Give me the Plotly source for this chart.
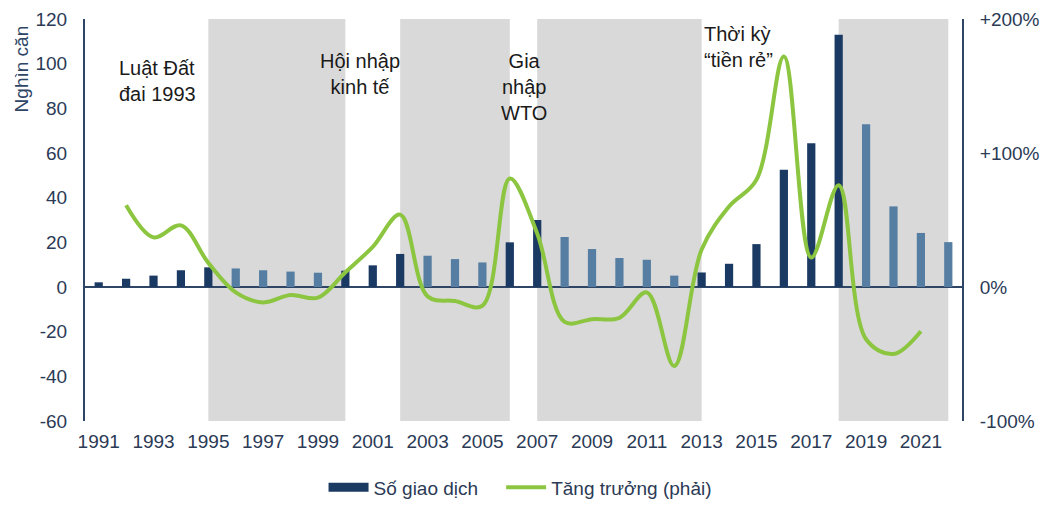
import plotly.graph_objects as go

years = list(range(1991, 2023))
transactions = [2.1, 3.7, 5.1, 7.5, 8.8, 8.3, 7.5, 6.9, 6.4, 7.3, 9.7, 14.8, 14.0, 12.5, 11.0, 20.0,
                30.0, 22.4, 17.0, 13.0, 12.2, 5.1, 6.5, 10.4, 19.2, 52.5, 64.4, 112.9, 72.9, 36.1, 24.2, 20.1]
light_years = [1996, 1997, 1998, 1999, 2003, 2004, 2005, 2008, 2009, 2010, 2011, 2012, 2019, 2020, 2021, 2022]

growth_years = list(range(1992, 2022))
growth = [61, 37, 46, 18, -4, -11.5, -6, -8, 11, 30, 54, -7, -10.5, -14, 81, 40,
          -26, -24, -23, -4, -59, 28, 60, 80, 172, 22, 76, -39, -50, -33]

bands = [(1995, 2000), (2002, 2006), (2007, 2013), (2018, 2022)]

tick_years = list(range(1991, 2022, 2))
left_ticks = [-60, -40, -20, 0, 20, 40, 60, 80, 100, 120]
left_labels = ["-60", "-40", "-20", "0", "20", "40", "60", "80", "100", "120"]
right_ticks = [-100, 0, 100, 200]
right_labels = ["-100%", "0%", "+100%", "+200%"]

DARK = "#1b3a63"
LIGHT = "#557ea2"
GREEN = "#8cc641"
AXIS = "#2e4565"
TXT = "#2b3a55"
FONT = "Liberation Sans, Arial, sans-serif"

bar_colors = [LIGHT if y in light_years else DARK for y in years]

fig = go.Figure()
fig.add_trace(go.Bar(x=years, y=transactions, marker=dict(color=bar_colors, line=dict(width=0)),
                     width=0.3, showlegend=False, name="Số giao dịch"))
# legend proxy for the bars (wide swatch)
fig.add_trace(go.Scatter(x=[None], y=[None], mode="lines", line=dict(color=DARK, width=9),
                         name="Số giao dịch", legend="legend"))
fig.add_trace(go.Scatter(x=growth_years, y=growth, yaxis="y2", mode="lines",
                         line=dict(color=GREEN, width=4, shape="spline", smoothing=1.0),
                         name="Tăng trưởng (phải)", legend="legend2"))

for b0, b1 in bands:
    fig.add_shape(type="rect", xref="x", yref="y", x0=b0, x1=b1, y0=-60, y1=120,
                  fillcolor="#d9d9d9", line=dict(width=0), layer="below")

ann_font = dict(family=FONT, size=20, color="#1a1a1a")
fig.add_annotation(x=1991.68, y=104, xref="x", yref="y", text="Luật Đất<br>đai 1993",
                   showarrow=False, xanchor="left", yanchor="top", align="left", font=ann_font)
fig.add_annotation(x=2000.55, y=106.8, xref="x", yref="y", text="Hội nhập<br>kinh tế",
                   showarrow=False, xanchor="center", yanchor="top", align="center", font=ann_font)
fig.add_annotation(x=2006.5, y=106.8, xref="x", yref="y", text="Gia<br>nhập<br>WTO",
                   showarrow=False, xanchor="center", yanchor="top", align="center", font=ann_font)
fig.add_annotation(x=2013.0, y=119, xref="x", yref="y", text="Thời kỳ<br>“tiền rẻ”",
                   showarrow=False, xanchor="left", yanchor="top", align="left", font=ann_font)
fig.add_annotation(x=-0.072, y=0.99, xref="paper", yref="paper", text="Nghìn căn",
                   textangle=-90, showarrow=False, xanchor="center", yanchor="top",
                   font=dict(family=FONT, size=19, color=AXIS))

legend_common = dict(orientation="h", xanchor="left", y=-0.165, yanchor="middle",
                     font=dict(size=19, color=TXT), itemwidth=40, bgcolor="rgba(0,0,0,0)")

fig.update_layout(
    width=1053, height=511,
    margin=dict(l=85, r=91, t=19, b=90, autoexpand=False),
    paper_bgcolor="white", plot_bgcolor="white",
    font=dict(family=FONT, size=19, color=TXT),
    xaxis=dict(range=[1990.5, 2022.5], tickmode="array", tickvals=tick_years,
               ticktext=[str(y) for y in tick_years], showgrid=False, zeroline=False,
               showline=False, ticks="outside", ticklen=3, tickcolor="rgba(0,0,0,0)",
               tickfont=dict(size=19, color=TXT), automargin=False),
    yaxis=dict(range=[-60, 120], tickmode="array", tickvals=left_ticks, ticktext=left_labels,
               showgrid=False, zeroline=True, zerolinecolor=AXIS, zerolinewidth=1.5,
               showline=True, linecolor=AXIS, linewidth=2,
               ticks="outside", ticklen=12, tickcolor="rgba(0,0,0,0)",
               tickfont=dict(size=19, color=TXT), automargin=False),
    yaxis2=dict(range=[-100, 200], overlaying="y", side="right", tickmode="array",
                tickvals=right_ticks, ticktext=right_labels, showgrid=False, zeroline=False,
                showline=True, linecolor=AXIS, linewidth=2,
                ticks="outside", ticklen=12, tickcolor="rgba(0,0,0,0)",
                tickfont=dict(size=19, color=TXT), automargin=False),
    legend=dict(x=0.272, **legend_common),
    legend2=dict(x=0.4745, **legend_common),
    showlegend=True,
)

fig.write_html("out.html", config={"displayModeBar": False},
               post_script="document.body.style.margin='0px';")
